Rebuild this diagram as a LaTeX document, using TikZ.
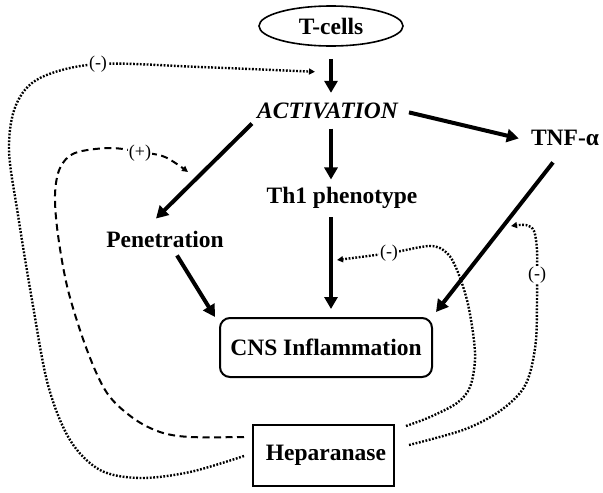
\documentclass[tikz,border=0pt]{standalone}
\usepackage{fontspec}
\setmainfont{Liberation Serif}
\usetikzlibrary{arrows.meta,shapes.geometric,calc}
\begin{document}
\begin{tikzpicture}[x=1pt,y=-1pt,
  lab/.style={font=\bfseries\fontsize{23.5}{28}\selectfont, inner sep=0pt, anchor=base},
  big/.style={line width=4pt, -{Triangle[length=12pt,width=13pt]}},
  dot/.style={line width=2.4pt, dash pattern=on 1.8pt off 1.6pt, -{Triangle[length=6pt,width=6pt]}},
  dsh/.style={line width=2pt, dash pattern=on 7pt off 4.5pt, -{Triangle[length=6pt,width=6pt]}},
  sgn/.style={font=\fontsize{18}{20}\selectfont, fill=white, inner sep=1pt}]
\useasboundingbox (0,0) rectangle (603,493);

% nodes
\node[ellipse, draw, line width=1.6pt, minimum width=144pt, minimum height=40pt, inner sep=0pt,
      font=\bfseries\fontsize{23.5}{28}\selectfont] (tcells) at (331,26) {T-cells};
\node[lab] (act) at (327.5,118) {\itshape ACTIVATION};
\node[lab] (tnf) at (565,145) {TNF-α};
\node[lab] (th1) at (342,203) {Th1 phenotype};
\node[lab] (pen) at (165,247) {Penetration};
\node[draw, line width=2pt, rounded corners=10pt, minimum width=212pt, minimum height=59pt,
      inner sep=0pt, font=\bfseries\fontsize{23.5}{28}\selectfont] (cns) at (326,347.5) {CNS Inflammation};
\node[draw, line width=2pt, minimum width=141pt, minimum height=61pt,
      inner sep=0pt, font=\bfseries\fontsize{23.5}{28}\selectfont] (hep) at (323.5,455.5) {\hspace{5pt}Heparanase};

% main arrows
\draw[big, shorten <=12pt, shorten >=9.4pt] (tcells.south) -- (tcells.south |- act.north);
\draw[big, shorten <=10pt, shorten >=7pt] (tcells.south |- act.south) -- (tcells.south |- th1.north);
\draw[big, shorten <=9pt, shorten >=8pt] (tcells.south |- th1.south) -- (tcells.south |- cns.north);
\draw[big] ($(act.east)+(11,2)$) -- ($(tnf.west)+(-12,1)$);
\draw[big] ($(act.south west)+(-5,5)$) -- ($(pen.north)+(-9,-12)$);
\draw[big] ($(pen.south)+(12,8)$) -- ($(cns.north west)+(-4,0)$);
\draw[big] ($(tnf.south)+(-12,17)$) -- ($(cns.north east)+(3,-5)$);

% feedback paths
\coordinate (h1) at ($(hep.west)+(-8,0.5)$);
\coordinate (a1) at ($(tcells.south)+(-16,25)$);
\draw[dot] plot[smooth, tension=0.55] coordinates {(h1) (190,472) (140,478) (100,470) (70,440) (48,385) (32,300) (18,215) (9,150) (16,105) (40,78) (98,64) (200,67) (a1)};
\node[sgn] (m1) at (98,64) {(-)};

\coordinate (h2) at ($(hep.north east)+(11,2)$);
\coordinate (i1) at (337,260);
\draw[dot] plot[smooth, tension=0.55] coordinates {(h2) (430,417) (457,403) (470,387) (475,360) (473,333) (467,300) (457,270) (447,253) (430,246) (390,253) (i1)};
\node[sgn] (m2) at (389,253) {(-)};

\coordinate (h4) at ($(hep.east)+(14,-10.5)$);
\coordinate (i2) at (511,226);
\draw[dot] plot[smooth, tension=0.55] coordinates {(h4) (463,430) (497,413) (520,393) (530,373) (536,340) (537,300) (537,275) (537,250) (534,231) (526,225) (i2)};
\node[sgn] (m3) at (537,275) {(-)};

\coordinate (h3) at ($(hep.west)+(-8,-18.5)$);
\coordinate (d1) at (188,172);
\draw[dsh] plot[smooth, tension=0.55] coordinates {(h3) (190,437) (160,432) (133,418) (107,393) (87,350) (68,290) (58,235) (55,195) (60,168) (75,153) (110,148) (140,152) (165,157) (d1)};
\node[sgn] (p1) at (140,153) {(+)};
\end{tikzpicture}
\end{document}
